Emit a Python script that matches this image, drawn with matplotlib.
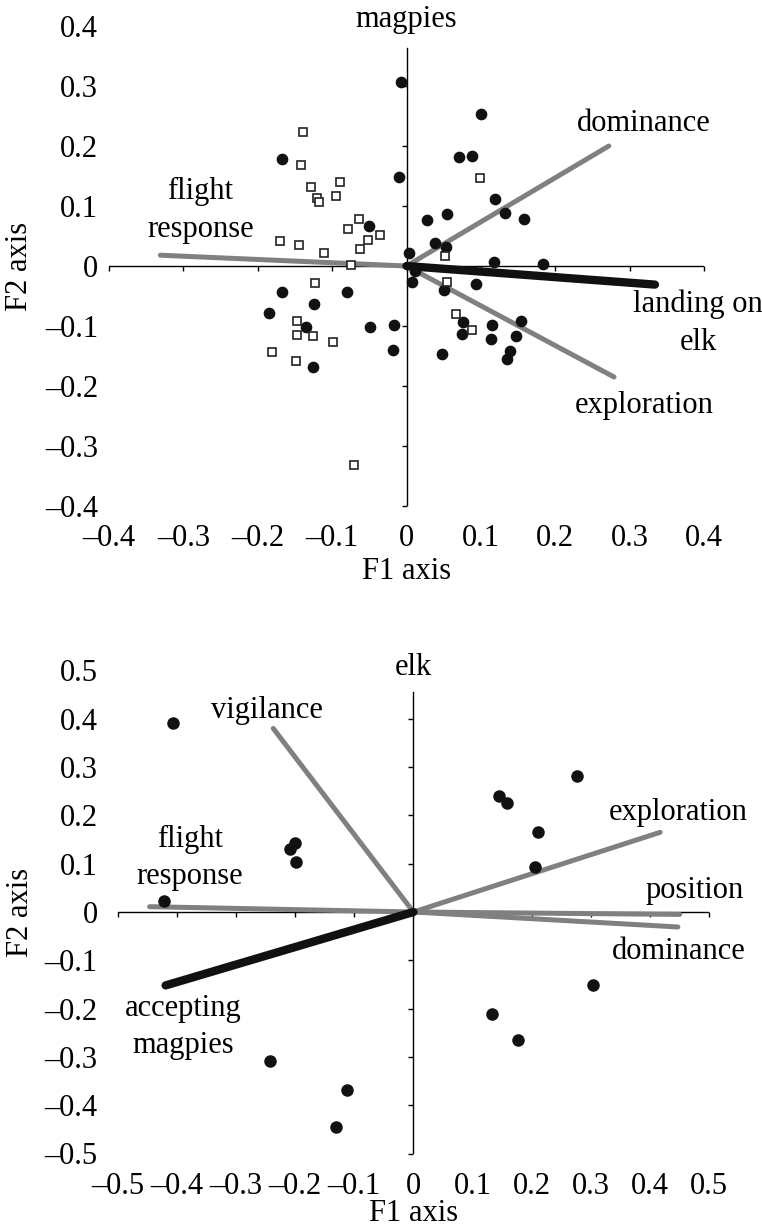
"""Biplots of the magpie and elk principal component loadings."""

import matplotlib

matplotlib.use("Agg")
import matplotlib.pyplot as plt
from matplotlib.markers import TICKDOWN, TICKLEFT

plt.rcParams["font.family"] = ["Liberation Serif", "DejaVu Serif"]
plt.rcParams["font.size"] = 22

GREY = "#808080"
INK = "#111111"

# ---- magpies panel -------------------------------------------------------
mag_ticks = [-0.4, -0.3, -0.2, -0.1, 0.0, 0.1, 0.2, 0.3, 0.4]

mag_dot_f1 = [-0.007, 0.100, 0.071, 0.088, -0.010, 0.119, 0.132, 0.158, 0.028, 0.054,
              0.038, 0.053, 0.003, 0.118, 0.183, 0.012, 0.008, 0.094, 0.050, 0.154,
              0.076, 0.115, -0.017, 0.075, 0.147, 0.114, 0.139, 0.135, -0.018, 0.048,
              -0.167, -0.051, -0.167, -0.080, -0.125, -0.185, -0.135, -0.049, -0.126]
mag_dot_f2 = [0.306, 0.254, 0.181, 0.183, 0.148, 0.111, 0.089, 0.078, 0.076, 0.087,
              0.038, 0.031, 0.021, 0.007, 0.003, -0.008, -0.027, -0.030, -0.040, -0.092,
              -0.093, -0.099, -0.099, -0.114, -0.116, -0.122, -0.142, -0.155, -0.140, -0.146,
              0.179, 0.067, -0.044, -0.044, -0.063, -0.078, -0.101, -0.102, -0.169]

mag_sq_f1 = [0.099, 0.052, 0.054, 0.067, 0.088, -0.035, -0.139, -0.142, -0.129, -0.120,
             -0.117, -0.090, -0.095, -0.064, -0.079, -0.052, -0.063, -0.170, -0.144, -0.111,
             -0.075, -0.123, -0.147, -0.147, -0.126, -0.099, -0.181, -0.149, -0.070]
mag_sq_f2 = [0.147, 0.017, -0.026, -0.080, -0.106, 0.052, 0.223, 0.168, 0.131, 0.114,
             0.106, 0.140, 0.117, 0.079, 0.062, 0.044, 0.028, 0.042, 0.035, 0.021,
             0.002, -0.028, -0.092, -0.115, -0.117, -0.126, -0.143, -0.158, -0.332]

mag_vars = ["flight\nresponse", "dominance", "exploration", "landing on\nelk"]
mag_load_f1 = [-0.331, 0.272, 0.279, 0.334]
mag_load_f2 = [0.018, 0.200, -0.185, -0.031]
mag_highlight = "landing on\nelk"

# ---- elk panel ------------------------------------------------------------
elk_ticks = [-0.5, -0.4, -0.3, -0.2, -0.1, 0.0, 0.1, 0.2, 0.3, 0.4, 0.5]

elk_dot_f1 = [-0.407, -0.200, -0.208, -0.198, -0.421, 0.277, 0.144, 0.159, 0.210, 0.205,
              0.304, 0.133, 0.177, -0.242, -0.112, -0.131]
elk_dot_f2 = [0.391, 0.143, 0.130, 0.103, 0.023, 0.282, 0.241, 0.225, 0.166, 0.094,
              -0.152, -0.212, -0.264, -0.309, -0.369, -0.446]

elk_vars = ["vigilance", "flight\nresponse", "exploration", "position", "dominance",
            "accepting\nmagpies"]
elk_load_f1 = [-0.237, -0.446, 0.417, 0.450, 0.447, -0.419]
elk_load_f2 = [0.380, 0.011, 0.165, -0.005, -0.031, -0.152]
elk_highlight = "accepting\nmagpies"


def tick_text(v):
    if abs(v) < 1e-9:
        return "0"
    s = f"{abs(v):.1f}"
    return "\u2013" + s if v < 0 else s


def draw_biplot(ax, title, ticks, dots, squares, names, f1, f2, highlight,
                label_xy, title_y, ypad, xpad, xlabel_y, ylabel_x, dot_ms):
    lim = ticks[-1]
    ax.set_xlim(-lim, lim)
    ax.set_ylim(-lim, lim)
    for spine in ax.spines.values():
        spine.set_visible(False)

    ax.set_xticks(ticks)
    ax.set_xticklabels([tick_text(t) for t in ticks])
    ax.set_yticks(ticks)
    ax.set_yticklabels([tick_text(t) for t in ticks])
    ax.tick_params(axis="both", length=0)
    ax.tick_params(axis="y", pad=ypad)
    ax.tick_params(axis="x", pad=xpad)

    # axes crossing at the origin, excel style
    ax.axhline(0, color="black", lw=1.0, zorder=1)
    ax.axvline(0, ymin=0, ymax=0.955, color="black", lw=1.0, zorder=1)
    ax.plot(ticks, [0] * len(ticks), ls="none", marker=TICKDOWN, ms=3.6,
            mew=1.0, color="black", clip_on=False, zorder=1)
    yt = [t for t in ticks if t < 0.9 * lim]
    ax.plot([0] * len(yt), yt, ls="none", marker=TICKLEFT, ms=3.6,
            mew=1.0, color="black", clip_on=False, zorder=1)

    for name, x, y, (tx, ty) in zip(names, f1, f2, label_xy):
        black = name == highlight
        ax.plot([0, x], [0, y], color=INK if black else GREY,
                lw=6.0 if black else 3.6, solid_capstyle="round",
                zorder=3 if black else 2)
        ax.text(tx, ty, name, ha="center", va="center", linespacing=1.4)

    ax.plot(dots[0], dots[1], ls="none", marker="o", ms=dot_ms, color=INK,
            zorder=4, clip_on=False)
    if squares is not None:
        ax.plot(squares[0], squares[1], ls="none", marker="s", ms=6.2,
                mfc="white", mec="#222222", mew=1.2, zorder=5)

    # title sits on the top edge of the plot area, over the axis line
    ax.text(0.5, title_y, title, transform=ax.transAxes, ha="center",
            va="baseline")
    ax.set_xlabel("F1 axis", va="center")
    ax.xaxis.set_label_coords(0.5, xlabel_y)
    ax.set_ylabel("F2 axis", va="center", ha="center", rotation_mode="default")
    ax.yaxis.set_label_coords(ylabel_x, 0.5)


fig = plt.figure(figsize=(7.62, 12.29), dpi=100)
W, H = 762, 1229
ax_top = fig.add_axes([109 / W, 1 - 506 / H, 595 / W, 480 / H])
ax_bot = fig.add_axes([117.7 / W, 1 - 1153.5 / H, 591.5 / W, 483 / H])

draw_biplot(
    ax_top, "magpies", mag_ticks,
    (mag_dot_f1, mag_dot_f2), (mag_sq_f1, mag_sq_f2),
    mag_vars, mag_load_f1, mag_load_f2, mag_highlight,
    label_xy=[(-0.277, 0.092), (0.319, 0.238), (0.319, -0.232), (0.392, -0.095)],
    title_y=0.998, ypad=8, xpad=13, xlabel_y=-0.1375, ylabel_x=-0.1496, dot_ms=7.4,
)
draw_biplot(
    ax_bot, "elk", elk_ticks,
    (elk_dot_f1, elk_dot_f2), None,
    elk_vars, elk_load_f1, elk_load_f2, elk_highlight,
    label_xy=[(-0.247, 0.418), (-0.378, 0.112), (0.448, 0.205), (0.475, 0.045),
              (0.448, -0.082), (-0.39, -0.238)],
    title_y=0.9907, ypad=14.4, xpad=13.5, xlabel_y=-0.124, ylabel_x=-0.165, dot_ms=8.0,
)

fig.savefig("out.png", dpi=100)
plt.close(fig)
